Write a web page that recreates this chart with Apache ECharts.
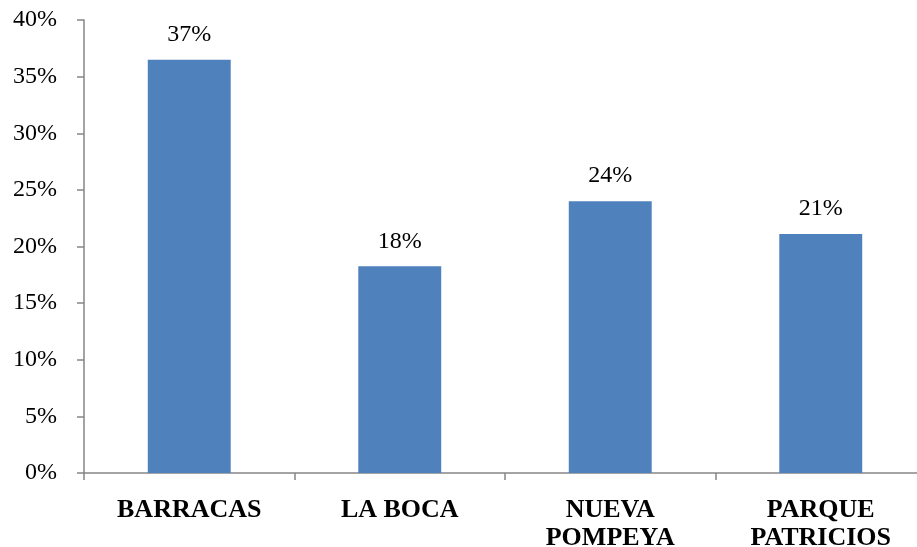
<!DOCTYPE html>
<html>
<head>
<meta charset="utf-8">
<script src="https://cdn.jsdelivr.net/npm/echarts@6/dist/echarts.min.js"></script>
<style>
  html, body { margin: 0; padding: 0; background: #fff; }
  #chart { width: 917px; height: 547px; }
</style>
</head>
<body>
<div id="chart"></div>
<script>
// Share of respondents per neighbourhood (%)
const categories = ['BARRACAS', 'LA BOCA', 'NUEVA\nPOMPEYA', 'PARQUE\nPATRICIOS'];
const shares = [36.5, 18.25, 24.0, 21.1];
const yTicks = { min: 0, max: 40, interval: 5 };

const chart = echarts.init(document.getElementById('chart'));
const serif = '"Liberation Serif", "Times New Roman", serif';
const axisGray = '#868686';

chart.setOption({
  animation: false,
  grid: {
    left: 84, right: -9, top: 20, bottom: 74,
    containLabel: false,
    outerBoundsMode: 'none'
  },
  xAxis: {
    type: 'category',
    data: categories,
    axisLine: { lineStyle: { color: axisGray, width: 1.5 } },
    axisTick: { show: true, length: 7, lineStyle: { color: axisGray, width: 1.5 } },
    axisLabel: {
      margin: 23,
      color: '#000',
      fontFamily: serif,
      fontWeight: 'bold',
      fontSize: 26,
      lineHeight: 28
    }
  },
  yAxis: {
    type: 'value',
    min: yTicks.min,
    max: yTicks.max,
    interval: yTicks.interval,
    splitLine: { show: false },
    axisLine: { show: true, lineStyle: { color: axisGray, width: 1.5 } },
    axisTick: { show: true, length: 7, lineStyle: { color: axisGray, width: 1.5 } },
    axisLabel: {
      margin: 27,
      color: '#000',
      fontFamily: serif,
      fontSize: 24,
      formatter: v => v + '%'
    }
  },
  series: [{
    type: 'bar',
    data: shares,
    barWidth: '39.4%',
    itemStyle: { color: '#4F81BD' },
    label: {
      show: true,
      position: 'top',
      distance: 13,
      color: '#000',
      fontFamily: serif,
      fontSize: 24,
      formatter: p => Math.round(p.value) + '%'
    }
  }]
});
</script>
</body>
</html>
